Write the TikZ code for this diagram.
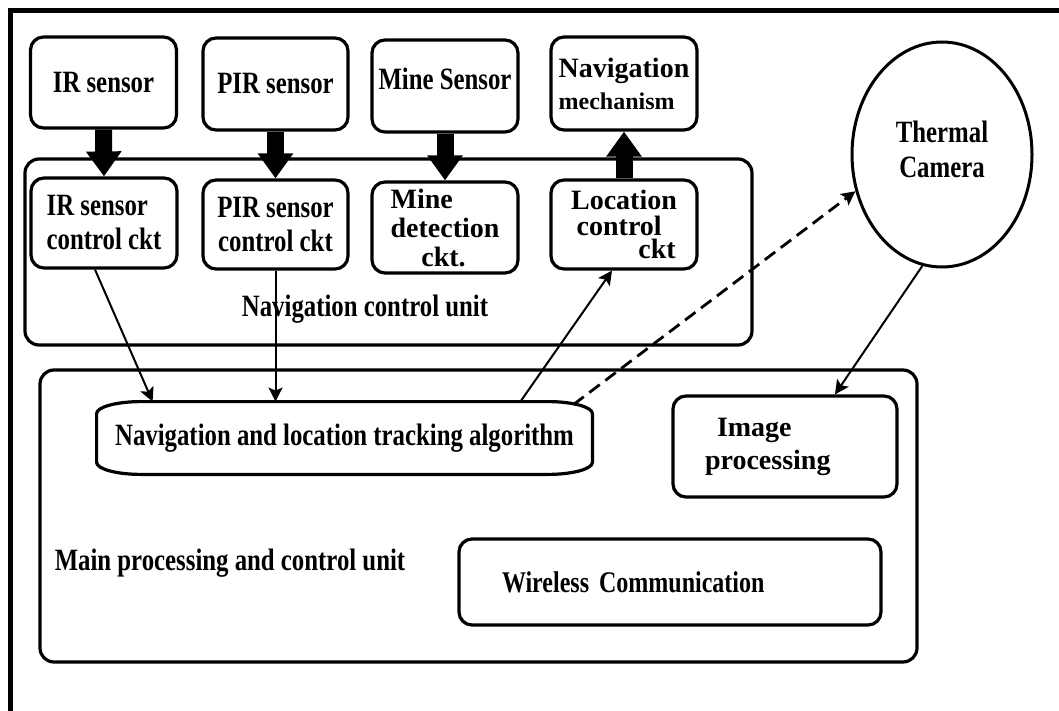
\documentclass[tikz,border=0pt]{standalone}
\usepackage{fontspec}
\setmainfont{Liberation Serif}
\newfontfamily\narrowfont{Liberation Serif}[FakeStretch=0.8]
\usetikzlibrary{arrows.meta,shapes.geometric}

\begin{document}
\begin{tikzpicture}[
		x=0.5pt, y=-0.5pt,
		blk/.style={draw, rounded corners=6.5pt, line width=1.6pt, fill=white, inner sep=0pt, align=center,
			font=\narrowfont\bfseries\fontsize{15.5}{17}\selectfont},
		unit/.style={draw, rounded corners=7pt, line width=1.6pt},
		lbl/.style={font=\narrowfont\bfseries\fontsize{15.5}{17}\selectfont},
		bigarrow/.style={line width=8.5pt, -{Triangle[width=17pt, length=12.5pt]}},
		sig/.style={line width=1pt, -{Stealth[width=7pt, length=7pt, inset=1.5pt]}}
	]
  \useasboundingbox (0,0) rectangle (1059,711);
  \clip (0,0) rectangle (1059,711);
  \draw[line width=2.5pt] (1070,11) -- (10,11) -- (10,720);

  % the two units
  \draw[unit] (25,159) rectangle (752,345);
  \node (ncutext) [lbl] at (365,309) {Navigation control unit};
  \draw[unit] (40,370) rectangle (917,662);
  \node (mpcutext) [lbl] at (230,563) {Main processing and control unit};

  % sensors and actuator
  \node (irs) [blk, minimum width=73pt, minimum height=45.5pt] at (103.5,82.5) {IR sensor};
  \node (pirs) [blk, minimum width=72.5pt, minimum height=46pt] at (275.5,84) {PIR sensor};
  \node (mines) [blk, minimum width=73pt, minimum height=46pt, text depth=7pt] at (445,86) {Mine Sensor};
  \node (navmech) [blk, minimum width=73pt, minimum height=46.5pt, align=left,
        font=\bfseries\fontsize{14}{16}\selectfont] at (624,83.5)
        {Navigation\\{\fontsize{12}{16}\selectfont mechanism}};

  % control circuits
  \node (irctl) [blk, minimum width=73pt, minimum height=45pt, align=left] at (104,223) {IR sensor\\control ckt};
  \node (pirctl) [blk, minimum width=72.5pt, minimum height=44.5pt] at (275.5,224.5) {PIR sensor\\control ckt};
  \node (minectl) [blk, minimum width=73pt, minimum height=45.5pt, align=left,
        font=\bfseries\fontsize{14}{14.5}\selectfont] at (445,227.5) {Mine\\detection\\\hspace*{1.1em}ckt.};
  \node (locctl) [blk, minimum width=73pt, minimum height=44.5pt, align=left,
        font=\bfseries\fontsize{14}{13}\selectfont] at (624,224.5)
        {Location\\\hspace*{0.2em}control\\[-1.5pt]\hspace*{2.4em}ckt};

  % camera
  \node (cam) [ellipse, draw, line width=1.5pt, minimum width=90pt, minimum height=112.5pt, inner sep=0pt,
        align=center, font=\narrowfont\bfseries\fontsize{15.5}{17.5}\selectfont] at (942,154.5)
        {\mbox{}\\[-12pt]Thermal\\Camera};

  % main processing blocks
  \node (algo) [lbl, minimum width=247.5pt, minimum height=36pt, inner sep=0pt] at (344.5,438)
        {Navigation and location tracking algorithm};
  \draw[line width=1.6pt] ([xshift=22pt]algo.north west) -- ([xshift=-22pt]algo.north east)
    .. controls ([xshift=-10pt]algo.north east) and ([yshift=-2.7pt]algo.north east) .. ([yshift=-6pt]algo.north east)
    -- ([yshift=6pt]algo.south east)
    .. controls ([yshift=2.7pt]algo.south east) and ([xshift=-10pt]algo.south east) .. ([xshift=-22pt]algo.south east)
    -- ([xshift=22pt]algo.south west)
    .. controls ([xshift=10pt]algo.south west) and ([yshift=2.7pt]algo.south west) .. ([yshift=6pt]algo.south west)
    -- ([yshift=-6pt]algo.north west)
    .. controls ([yshift=-2.7pt]algo.north west) and ([xshift=10pt]algo.north west) .. cycle;
  \node (imgproc) [blk, minimum width=112pt, minimum height=50.5pt, text width=80pt, align=left,
        font=\bfseries\fontsize{14}{16.5}\selectfont] at (785,446.5) {\hspace*{6pt}Image\\processing};
  \node (wireless) [blk, minimum width=211pt, minimum height=43pt, text width=168pt, align=left,
        font=\narrowfont\bfseries\fontsize{15}{17}\selectfont] at (670,582) {Wireless Communication};

  % connections
  \draw[bigarrow] (irs.south) -- (irctl.north);
  \draw[bigarrow] (pirs.south) -- (pirctl.north);
  \draw[bigarrow] (mines.south) -- (minectl.north);
  \draw[bigarrow] (locctl.north) -- (navmech.south);
  \draw[sig] ([xshift=-4.5pt]irctl.south) -- ([xshift=28pt]algo.north west);
  \draw[sig] (pirctl.south) -- (pirctl.south |- algo.north);
  \draw[sig] ([xshift=-36pt]algo.north east) -- ([xshift=-6pt]locctl.south);
  \draw[sig, line width=1.4pt, dash pattern=on 6.5pt off 3.5pt] ([xshift=-9.5pt,yshift=-1.5pt]algo.north east) -- (cam.203);
  \draw[sig] (cam.260) -- ([xshift=25pt]imgproc.north);
\end{tikzpicture}
\end{document}
